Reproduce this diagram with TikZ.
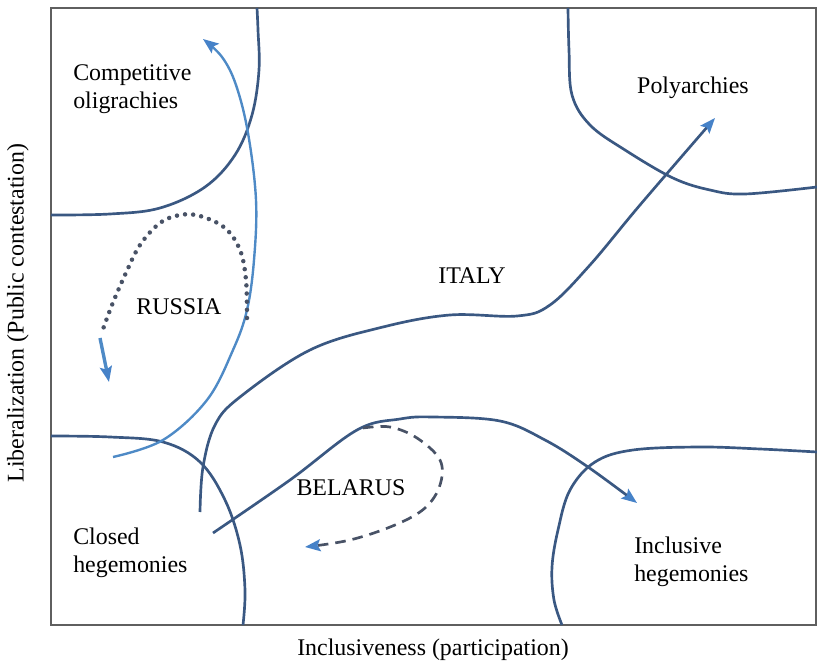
\documentclass[tikz,border=0pt]{standalone}
\usepackage{fontspec}
\setmainfont{Liberation Serif}
\usepackage{tikz}
\usetikzlibrary{arrows.meta}
\definecolor{framegray}{RGB}{95,95,95}
\definecolor{regionblue}{RGB}{58,88,130}
\definecolor{pathblue}{RGB}{78,138,198}
\definecolor{tipblue}{RGB}{70,130,200}
\definecolor{trackgray}{RGB}{72,82,102}

\begin{document}
\begin{tikzpicture}[
            x=0.025cm, y=-0.025cm,
            font=\fontsize{17}{20}\selectfont,
            frame/.style={draw=framegray, line width=1.5pt},
            boundary/.style={draw=regionblue, line width=1.9pt},
            region/.style={align=left, anchor=west, inner sep=0pt},
            country/.style={inner sep=0pt},
            trend/.style={-{Stealth[length=11pt, width=8.5pt, inset=2pt, color=tipblue]}, line width=1.9pt},
            dotted track/.style={trackgray, line width=3.2pt, line cap=round, dash pattern=on 0pt off 5.8pt},
            dashed track/.style={trackgray, line width=1.9pt, dash pattern=on 7.5pt off 5pt}
        ]
            \useasboundingbox (0,0) rectangle (817,662);

            % frame and axes
            \draw[frame] (51,8) rectangle (816,625);
            \node (xlabel) at (433,650) {Inclusiveness (participation)};
            \node[rotate=90] (ylabel) at (18,313) {Liberalization (Public contestation)};

            % region boundaries
            \draw[boundary] plot[smooth, tension=0.6] coordinates {(51,215) (110,214) (160,208) (205,187) (235,155) (252,115) (259,70) (258,30) (257,8)};
            \draw[boundary] plot[smooth, tension=0.6] coordinates {(568,8) (569,50) (572,95) (590,125) (625,150) (673,178) (710,190) (745,194) (817,187)};
            \draw[boundary] plot[smooth, tension=0.6] coordinates {(51,436) (110,437) (163,442) (200,462) (225,500) (240,545) (245,590) (243,625)};
            \draw[boundary] plot[smooth, tension=0.6] coordinates {(817,452) (760,449) (700,447) (633,450) (595,462) (570,490) (558,530) (552,567) (554,600) (562,625)};

            % regions
            \node[region] (compolig) at (73,89) {Competitive\\oligrachies};
            \node[anchor=center, inner sep=0pt] (polyarch) at (693,88) {Polyarchies};
            \node[region] (closedheg) at (73,553) {Closed\\hegemonies};
            \node[region] (inclheg) at (634,562) {Inclusive\\hegemonies};

            % countries
            \node[country] (russia) at (179,307) {RUSSIA};
            \node[country] (italy) at (472,276) {ITALY};
            \node[country] (belarus) at (351,488) {BELARUS};

            \coordinate (italystart) at (200,512);
            \coordinate (italyend) at (715,118);
            \coordinate (belarusstart) at (213,533);
            \coordinate (belarusend) at (637,503);
            \coordinate (russiastart) at (113,457);
            \coordinate (russiaend) at (203,39);

            % trajectories
            \draw[trend, regionblue] plot[smooth, tension=0.6] coordinates {(italystart) (203,467) (215,425) (240,397) (310,350) (383,327) (450,315) (517,316) (550,305) (590,265) (640,205) (italyend)};
            \draw[trend, regionblue] plot[smooth, tension=0.6] coordinates {(belarusstart) (290,480) (357,430) (400,419) (433,417) (500,421) (545,440) (588,467) (belarusend)};
            \draw[trend, pathblue, line width=1.7pt] plot[smooth, tension=0.6] coordinates {(russiastart) (163,440) (207,400) (233,350) (247,310) (254,260) (256,200) (248,133) (236,85) (222,57) (russiaend)};

            % russia loop
            \draw[dotted track] plot[smooth, tension=0.6] coordinates {(247,318) (246,280) (240,250) (225,228) (200,216) (180,215) (160,223) (140,245) (125,275) (112,305) (102,332)};
            \draw[trend, pathblue, line width=2.4pt] (100,338) -- (109,382);

            % belarus loop
            \draw[dashed track, -{Stealth[length=11pt, width=8.5pt, inset=2pt, color=tipblue]}] plot[smooth, tension=0.6] coordinates {(363,428) (390,427) (417,438) (440,460) (440,485) (425,508) (395,525) (350,540) (305,547)};
        \end{tikzpicture}
\end{document}
